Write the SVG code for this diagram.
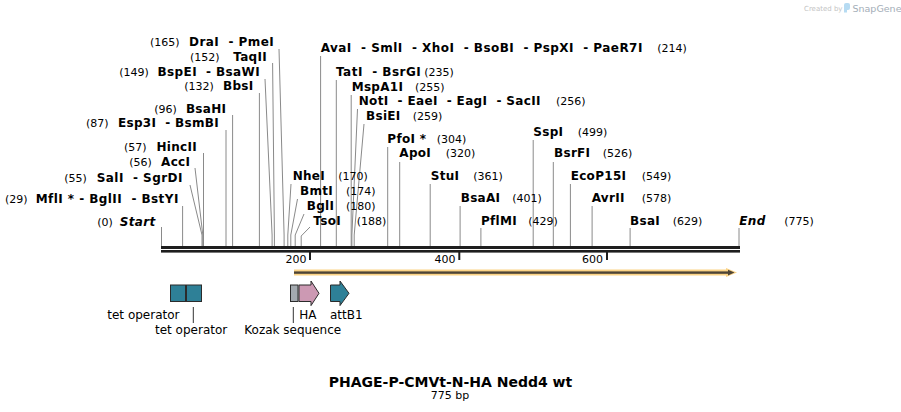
<svg xmlns="http://www.w3.org/2000/svg" width="901" height="412" viewBox="0 0 901 412" xml:space="preserve">
<style>
.n{font-family:"DejaVu Sans",Verdana,sans-serif;font-weight:bold;font-size:12px;letter-spacing:0.3px;fill:#000;white-space:pre}
.i{font-style:italic}
.p{font-family:"DejaVu Sans",Verdana,sans-serif;font-size:11px;fill:#000}
.f{font-family:"DejaVu Sans",Verdana,sans-serif;font-size:12px;fill:#000}
.e{text-anchor:end}
.l{stroke:#8a8a8a;stroke-width:1;fill:none}
.k{stroke:#333;stroke-width:1;fill:none}
.teal{fill:#2E8097;stroke:#2b2b2b;stroke-width:1}
</style>
<rect width="901" height="412" fill="#fff"/>
<g id="watermark">
<text x="804" y="11" style="font-family:'DejaVu Sans',sans-serif;font-size:7px;fill:#c4c4c4">Created by</text>
<rect x="844" y="3" width="6" height="7" rx="2" fill="#b6dbf2"/>
<rect x="844" y="8" width="3" height="4.5" fill="#b6dbf2"/>
<text x="852.5" y="11.5" style="font-family:'DejaVu Sans',sans-serif;font-size:9.5px;fill:#a4aeb8">SnapGene</text>
</g>
<g id="connectors">
<polyline class="l" points="161.5,227 161.5,246"/>
<polyline class="l" points="182.6,206 182.6,246"/>
<polyline class="l" points="190,185 202,235 202,246"/>
<polyline class="l" points="195,168 202.8,235 202.8,246"/>
<polyline class="l" points="203.5,153 203.5,246"/>
<polyline class="l" points="226,130 226,246"/>
<polyline class="l" points="232.6,115 232.6,246"/>
<polyline class="l" points="259.4,93 259.4,246"/>
<polyline class="l" points="265,79 272.1,235 272.1,246"/>
<polyline class="l" points="272.6,63 274.4,235 274.4,246"/>
<polyline class="l" points="279,49 284.1,235 284.1,246"/>
<polyline class="l" points="291,184 287.8,235 287.8,246"/>
<polyline class="l" points="297.5,199 290.8,235 290.8,246"/>
<polyline class="l" points="304,214 295.2,235 295.2,246"/>
<polyline class="l" points="310,227 301.2,236 301.2,246"/>
<polyline class="l" points="320.6,56 320.6,246"/>
<polyline class="l" points="336.3,80 336.3,246"/>
<polyline class="l" points="351.2,95 351.2,246"/>
<polyline class="l" points="357.5,109 351.9,235 351.9,246"/>
<polyline class="l" points="364,124 354.2,235 354.2,246"/>
<polyline class="l" points="387.7,147 387.7,246"/>
<polyline class="l" points="399.7,162 399.7,246"/>
<polyline class="l" points="430.2,184 430.2,246"/>
<polyline class="l" points="460.1,206 460.1,246"/>
<polyline class="l" points="480.9,228 480.9,246"/>
<polyline class="l" points="533.2,140 533.2,246"/>
<polyline class="l" points="553.3,162 553.3,246"/>
<polyline class="l" points="570.4,184 570.4,246"/>
<polyline class="l" points="592.1,206 592.1,246"/>
<polyline class="l" points="630.1,228 630.1,246"/>
<polyline class="l" points="739,228 739,246"/>
<line class="k" x1="193.3" y1="307" x2="193.3" y2="323"/>
<line class="k" x1="293.3" y1="307" x2="293.3" y2="323"/>
</g>
<g id="site-165"><text class="p" x="150" y="45.7">(165)</text><text class="n e" x="274" y="45.7" textLength="85" lengthAdjust="spacing">DraI  - PmeI</text></g>
<g id="site-152"><text class="p" x="190" y="60.7">(152)</text><text class="n e" x="267" y="60.7">TaqII</text></g>
<g id="site-149"><text class="p" x="119.3" y="75.7">(149)</text><text class="n e" x="260" y="75.7" textLength="102.5" lengthAdjust="spacing">BspEI  - BsaWI</text></g>
<g id="site-132"><text class="p" x="184.3" y="90">(132)</text><text class="n e" x="253.5" y="90">BbsI</text></g>
<g id="site-96"><text class="p" x="154.3" y="112.7">(96)</text><text class="n e" x="226.3" y="112.7">BsaHI</text></g>
<g id="site-87"><text class="p" x="86" y="127.3">(87)</text><text class="n e" x="219" y="127.3" textLength="101" lengthAdjust="spacing">Esp3I  - BsmBI</text></g>
<g id="site-57"><text class="p" x="124" y="150.7">(57)</text><text class="n e" x="197" y="150.7">HincII</text></g>
<g id="site-56"><text class="p" x="129.3" y="166">(56)</text><text class="n e" x="190.3" y="166">AccI</text></g>
<g id="site-55"><text class="p" x="64.3" y="181.7">(55)</text><text class="n e" x="182.7" y="181.7" textLength="86" lengthAdjust="spacing">SalI  - SgrDI</text></g>
<g id="site-29"><text class="p" x="5" y="203.3">(29)</text><text class="n e" x="178.7" y="203.3" textLength="143" lengthAdjust="spacing">MflI * - BglII  - BstYI</text></g>
<g id="site-0"><text class="p" x="97.3" y="225.5">(0)</text><text class="n i e" x="155.5" y="225.5">Start</text></g>
<g id="site-214"><text class="n" x="320.7" y="52.3" textLength="322" lengthAdjust="spacing">AvaI  - SmlI  - XhoI  - BsoBI  - PspXI  - PaeR7I</text><text class="p" x="657.3" y="52.3">(214)</text></g>
<g id="site-235"><text class="n" x="336" y="75.7" textLength="85" lengthAdjust="spacing">TatI  - BsrGI</text><text class="p" x="424.3" y="75.7">(235)</text></g>
<g id="site-255"><text class="n" x="351.7" y="90.7">MspA1I</text><text class="p" x="415" y="90.7">(255)</text></g>
<g id="site-256"><text class="n" x="358.7" y="105" textLength="182" lengthAdjust="spacing">NotI  - EaeI  - EagI  - SacII</text><text class="p" x="556" y="105">(256)</text></g>
<g id="site-259"><text class="n" x="366" y="120">BsiEI</text><text class="p" x="412.7" y="120">(259)</text></g>
<g id="site-304"><text class="n" x="387.3" y="142.7">PfoI *</text><text class="p" x="436.7" y="142.7">(304)</text></g>
<g id="site-320"><text class="n" x="399.3" y="157.3">ApoI</text><text class="p" x="445.7" y="157.3">(320)</text></g>
<g id="site-170"><text class="n" x="292.7" y="180">NheI</text><text class="p" x="338.3" y="180">(170)</text></g>
<g id="site-174"><text class="n" x="300" y="195">BmtI</text><text class="p" x="346" y="195">(174)</text></g>
<g id="site-180"><text class="n" x="306.7" y="210">BglI</text><text class="p" x="346" y="210">(180)</text></g>
<g id="site-188"><text class="n" x="313.3" y="225">TsoI</text><text class="p" x="356.7" y="225">(188)</text></g>
<g id="site-361"><text class="n" x="430.7" y="180">StuI</text><text class="p" x="473.3" y="180">(361)</text></g>
<g id="site-401"><text class="n" x="460.7" y="202.3">BsaAI</text><text class="p" x="512.3" y="202.3">(401)</text></g>
<g id="site-429"><text class="n" x="481" y="225">PflMI</text><text class="p" x="528.3" y="225">(429)</text></g>
<g id="site-499"><text class="n" x="533.3" y="135.7">SspI</text><text class="p" x="577.7" y="135.7">(499)</text></g>
<g id="site-526"><text class="n" x="554" y="157.3">BsrFI</text><text class="p" x="602.7" y="157.3">(526)</text></g>
<g id="site-549"><text class="n" x="570.7" y="180">EcoP15I</text><text class="p" x="641.7" y="180">(549)</text></g>
<g id="site-578"><text class="n" x="591.7" y="202.3">AvrII</text><text class="p" x="641.7" y="202.3">(578)</text></g>
<g id="site-629"><text class="n" x="630" y="225">BsaI</text><text class="p" x="672.7" y="225">(629)</text></g>
<g id="site-775"><text class="n i" x="739.3" y="225">End</text><text class="p" x="784.3" y="225">(775)</text></g>
<g id="ruler">
<rect x="161" y="246" width="579" height="3" fill="#1e1e1e"/>
<rect x="161" y="250" width="579" height="2.6" fill="#1e1e1e"/>
<rect x="309" y="252" width="2" height="8" fill="#1e1e1e"/>
<rect x="458.3" y="252" width="2" height="8" fill="#1e1e1e"/>
<rect x="606" y="252" width="2" height="8" fill="#1e1e1e"/>
<text class="p e" x="306.5" y="262.5">200</text>
<text class="p e" x="455.5" y="262.5">400</text>
<text class="p e" x="603" y="262.5">600</text>
</g>
<g id="orf">
<rect x="294" y="269.5" width="434" height="6" fill="#FBD386"/>
<polygon points="726,268 737,272.5 726,277" fill="#FBD386"/>
<rect x="294" y="271.4" width="435" height="2.4" fill="#4d4436"/>
<polygon points="728,269.8 734.5,272.6 728,275.4" fill="#4d4436"/>
</g>
<g id="tet-operator-1">
<rect class="teal" x="170.5" y="285" width="15" height="16.5"/>
<text class="f e" x="179.5" y="318.5">tet operator</text>
</g>
<g id="tet-operator-2">
<rect class="teal" x="186.5" y="285" width="15" height="16.5"/>
<text class="f" x="155" y="333.5">tet operator</text>
</g>
<g id="kozak">
<rect x="290.5" y="285" width="7.5" height="16.5" fill="#A3A9AF" stroke="#2b2b2b" stroke-width="1"/>
<text class="f" x="244.3" y="333.5">Kozak sequence</text>
</g>
<g id="HA">
<polygon points="299,285 311,285 311,281 319,293.3 311,305.6 311,301.5 299,301.5" fill="#CC99B3" stroke="#2b2b2b" stroke-width="1"/>
<text class="f" x="299.3" y="318.5">HA</text>
</g>
<g id="attB1">
<polygon points="330.5,285 340,285 340,281 349,293.3 340,305.6 340,301.5 330.5,301.5" class="teal"/>
<text class="f" x="330" y="318.5">attB1</text>
</g>
<g id="title">
<text x="450.5" y="386.5" style="font-family:'DejaVu Sans',Verdana,sans-serif;font-weight:bold;font-size:14px;text-anchor:middle">PHAGE-P-CMVt-N-HA Nedd4 wt</text>
<text class="p" x="450" y="399" style="text-anchor:middle">775 bp</text>
</g>
</svg>
